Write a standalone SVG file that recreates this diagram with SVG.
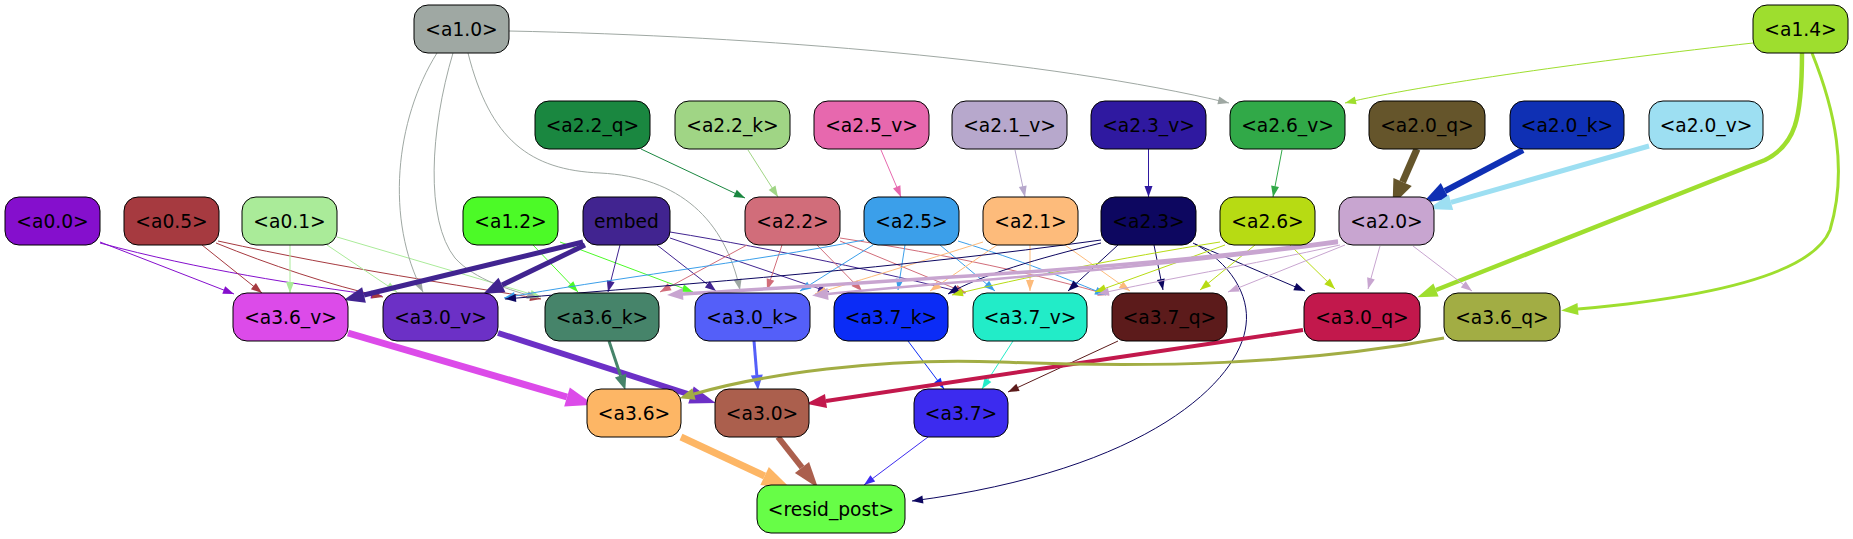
<svg xmlns="http://www.w3.org/2000/svg" width="1853" height="539" viewBox="0 0 1853 539">
<style>
.n rect{stroke:#000;stroke-width:1}
.n text{font-family:"DejaVu Sans","Liberation Sans",sans-serif;font-size:18.67px;text-anchor:middle;fill:#000}
#edges path{fill:none;stroke-width:1}
.gray{stroke:#9fa8a3}.a14{stroke:#9ede2e}.a22q{stroke:#1a8740}.a22k{stroke:#a0d585}.a25v{stroke:#e768ae}.a21v{stroke:#b7a8cc}.a23v{stroke:#2f19a0}.a26v{stroke:#31a948}
.a00{stroke:#850fcd}.a05{stroke:#a63a40}.a01{stroke:#aaeb99}.a12{stroke:#4cfa27}.emb{stroke:#412490}.a22{stroke:#d16d7a}.a25{stroke:#3b9fea}.a21{stroke:#fdbb7b}.a23{stroke:#0d0760}.a26{stroke:#b7db13}.a20{stroke:#c8a5d0}
.a37k{stroke:#0b2cf6}.a37v{stroke:#22ecc8}.a37q{stroke:#5c1b1b}.a37{stroke:#3c2bef}
.a20q{stroke:#65552b}.a20k{stroke:#0f30b4}.a20v{stroke:#9ddff2}.a36v{stroke:#dc4be9}.a30v{stroke:#6c30c6}.a36k{stroke:#46846a}.a30k{stroke:#545ff9}.a30q{stroke:#c2184c}.a36q{stroke:#a2ad44}.a36{stroke:#fdb665}.a30{stroke:#ab5f4d}
</style>
<defs>
<marker id="t-gray" markerUnits="userSpaceOnUse" markerWidth="12" markerHeight="9" refX="11" refY="4" orient="auto" overflow="visible"><path d="M0,0L11,4L0,8z" fill="#9fa8a3"/></marker>
<marker id="t-a14" markerUnits="userSpaceOnUse" markerWidth="12" markerHeight="9" refX="11" refY="4" orient="auto" overflow="visible"><path d="M0,0L11,4L0,8z" fill="#9ede2e"/></marker>
<marker id="t-a22q" markerUnits="userSpaceOnUse" markerWidth="12" markerHeight="9" refX="11" refY="4" orient="auto" overflow="visible"><path d="M0,0L11,4L0,8z" fill="#1a8740"/></marker>
<marker id="t-a22k" markerUnits="userSpaceOnUse" markerWidth="12" markerHeight="9" refX="11" refY="4" orient="auto" overflow="visible"><path d="M0,0L11,4L0,8z" fill="#a0d585"/></marker>
<marker id="t-a25v" markerUnits="userSpaceOnUse" markerWidth="12" markerHeight="9" refX="11" refY="4" orient="auto" overflow="visible"><path d="M0,0L11,4L0,8z" fill="#e768ae"/></marker>
<marker id="t-a21v" markerUnits="userSpaceOnUse" markerWidth="12" markerHeight="9" refX="11" refY="4" orient="auto" overflow="visible"><path d="M0,0L11,4L0,8z" fill="#b7a8cc"/></marker>
<marker id="t-a23v" markerUnits="userSpaceOnUse" markerWidth="12" markerHeight="9" refX="11" refY="4" orient="auto" overflow="visible"><path d="M0,0L11,4L0,8z" fill="#2f19a0"/></marker>
<marker id="t-a26v" markerUnits="userSpaceOnUse" markerWidth="12" markerHeight="9" refX="11" refY="4" orient="auto" overflow="visible"><path d="M0,0L11,4L0,8z" fill="#31a948"/></marker>
<marker id="t-a00" markerUnits="userSpaceOnUse" markerWidth="12" markerHeight="9" refX="11" refY="4" orient="auto" overflow="visible"><path d="M0,0L11,4L0,8z" fill="#850fcd"/></marker>
<marker id="t-a05" markerUnits="userSpaceOnUse" markerWidth="12" markerHeight="9" refX="11" refY="4" orient="auto" overflow="visible"><path d="M0,0L11,4L0,8z" fill="#a63a40"/></marker>
<marker id="t-a01" markerUnits="userSpaceOnUse" markerWidth="12" markerHeight="9" refX="11" refY="4" orient="auto" overflow="visible"><path d="M0,0L11,4L0,8z" fill="#aaeb99"/></marker>
<marker id="t-a12" markerUnits="userSpaceOnUse" markerWidth="12" markerHeight="9" refX="11" refY="4" orient="auto" overflow="visible"><path d="M0,0L11,4L0,8z" fill="#4cfa27"/></marker>
<marker id="t-emb" markerUnits="userSpaceOnUse" markerWidth="12" markerHeight="9" refX="11" refY="4" orient="auto" overflow="visible"><path d="M0,0L11,4L0,8z" fill="#412490"/></marker>
<marker id="t-a22" markerUnits="userSpaceOnUse" markerWidth="12" markerHeight="9" refX="11" refY="4" orient="auto" overflow="visible"><path d="M0,0L11,4L0,8z" fill="#d16d7a"/></marker>
<marker id="t-a25" markerUnits="userSpaceOnUse" markerWidth="12" markerHeight="9" refX="11" refY="4" orient="auto" overflow="visible"><path d="M0,0L11,4L0,8z" fill="#3b9fea"/></marker>
<marker id="t-a21" markerUnits="userSpaceOnUse" markerWidth="12" markerHeight="9" refX="11" refY="4" orient="auto" overflow="visible"><path d="M0,0L11,4L0,8z" fill="#fdbb7b"/></marker>
<marker id="t-a23" markerUnits="userSpaceOnUse" markerWidth="12" markerHeight="9" refX="11" refY="4" orient="auto" overflow="visible"><path d="M0,0L11,4L0,8z" fill="#0d0760"/></marker>
<marker id="t-a26" markerUnits="userSpaceOnUse" markerWidth="12" markerHeight="9" refX="11" refY="4" orient="auto" overflow="visible"><path d="M0,0L11,4L0,8z" fill="#b7db13"/></marker>
<marker id="t-a20" markerUnits="userSpaceOnUse" markerWidth="12" markerHeight="9" refX="11" refY="4" orient="auto" overflow="visible"><path d="M0,0L11,4L0,8z" fill="#c8a5d0"/></marker>
<marker id="t-a37k" markerUnits="userSpaceOnUse" markerWidth="12" markerHeight="9" refX="11" refY="4" orient="auto" overflow="visible"><path d="M0,0L11,4L0,8z" fill="#0b2cf6"/></marker>
<marker id="t-a37v" markerUnits="userSpaceOnUse" markerWidth="12" markerHeight="9" refX="11" refY="4" orient="auto" overflow="visible"><path d="M0,0L11,4L0,8z" fill="#22ecc8"/></marker>
<marker id="t-a37q" markerUnits="userSpaceOnUse" markerWidth="12" markerHeight="9" refX="11" refY="4" orient="auto" overflow="visible"><path d="M0,0L11,4L0,8z" fill="#5c1b1b"/></marker>
<marker id="t-a37" markerUnits="userSpaceOnUse" markerWidth="12" markerHeight="9" refX="11" refY="4" orient="auto" overflow="visible"><path d="M0,0L11,4L0,8z" fill="#3c2bef"/></marker>
<marker id="T-a20q" markerUnits="userSpaceOnUse" markerWidth="26" markerHeight="20" refX="0" refY="10" orient="auto" overflow="visible"><path d="M0,0L25,10L0,20z" fill="#65552b"/></marker>
<marker id="T-a20k" markerUnits="userSpaceOnUse" markerWidth="26" markerHeight="19" refX="0" refY="9" orient="auto" overflow="visible"><path d="M0,0L25,9L0,18z" fill="#0f30b4"/></marker>
<marker id="T-a20v" markerUnits="userSpaceOnUse" markerWidth="26" markerHeight="17" refX="0" refY="8" orient="auto" overflow="visible"><path d="M0,0L24,8L0,16z" fill="#9ddff2"/></marker>
<marker id="T-a14q" markerUnits="userSpaceOnUse" markerWidth="21" markerHeight="15" refX="0" refY="7" orient="auto" overflow="visible"><path d="M0,0L20,7L0,14z" fill="#9ede2e"/></marker>
<marker id="T-a14s" markerUnits="userSpaceOnUse" markerWidth="18" markerHeight="13" refX="0" refY="6" orient="auto" overflow="visible"><path d="M0,0L17,6L0,12z" fill="#9ede2e"/></marker>
<marker id="T-emb" markerUnits="userSpaceOnUse" markerWidth="22" markerHeight="17" refX="0" refY="8" orient="auto" overflow="visible"><path d="M0,0L21,8L0,16z" fill="#412490"/></marker>
<marker id="T-a36v" markerUnits="userSpaceOnUse" markerWidth="29" markerHeight="21" refX="0" refY="10" orient="auto" overflow="visible"><path d="M0,0L28,10L0,20z" fill="#dc4be9"/></marker>
<marker id="T-a30v" markerUnits="userSpaceOnUse" markerWidth="27" markerHeight="19" refX="0" refY="9" orient="auto" overflow="visible"><path d="M0,0L26,9L0,18z" fill="#6c30c6"/></marker>
<marker id="T-a36k" markerUnits="userSpaceOnUse" markerWidth="16" markerHeight="13" refX="0" refY="6" orient="auto" overflow="visible"><path d="M0,0L15,6L0,12z" fill="#46846a"/></marker>
<marker id="T-a30k" markerUnits="userSpaceOnUse" markerWidth="16" markerHeight="13" refX="0" refY="6" orient="auto" overflow="visible"><path d="M0,0L15,6L0,12z" fill="#545ff9"/></marker>
<marker id="T-a30q" markerUnits="userSpaceOnUse" markerWidth="21" markerHeight="15" refX="0" refY="7" orient="auto" overflow="visible"><path d="M0,0L20,7L0,14z" fill="#c2184c"/></marker>
<marker id="T-a36q" markerUnits="userSpaceOnUse" markerWidth="16" markerHeight="13" refX="0" refY="6" orient="auto" overflow="visible"><path d="M0,0L15,6L0,12z" fill="#a2ad44"/></marker>
<marker id="T-a36" markerUnits="userSpaceOnUse" markerWidth="29" markerHeight="21" refX="0" refY="10" orient="auto" overflow="visible"><path d="M0,0L28,10L0,20z" fill="#fdb665"/></marker>
<marker id="T-a30" markerUnits="userSpaceOnUse" markerWidth="27" markerHeight="19" refX="0" refY="9" orient="auto" overflow="visible"><path d="M0,0L26,9L0,18z" fill="#ab5f4d"/></marker>
<marker id="T-a20t" markerUnits="userSpaceOnUse" markerWidth="17" markerHeight="13" refX="0" refY="6" orient="auto" overflow="visible"><path d="M0,0L16,6L0,12z" fill="#c8a5d0"/></marker>
</defs>
<rect width="1853" height="539" fill="#fff"/>
<g id="edges">
<path class="gray" marker-end="url(#t-gray)" d="M509,31 C760,36 1050,60 1229,103"/>
<path class="a14" marker-end="url(#t-a14)" d="M1753,43 C1600,60 1420,85 1345,103"/>
<path class="a14" style="stroke-width:4.5" marker-end="url(#T-a14q)" d="M1802,53 C1802,120 1795,145 1765,160 L1436,290"/>
<path class="a14" style="stroke-width:3" marker-end="url(#T-a14s)" d="M1812,53 C1835,110 1848,170 1830,230 C1810,280 1680,300 1578,309"/>
<path class="a22q" marker-end="url(#t-a22q)" d="M641,149 L745,198"/>
<path class="a22k" marker-end="url(#t-a22k)" d="M748,150 L778,197"/>
<path class="a25v" marker-end="url(#t-a25v)" d="M881,150 L901,197"/>
<path class="a21v" marker-end="url(#t-a21v)" d="M1015,150 L1025,197"/>
<path class="a23v" marker-end="url(#t-a23v)" d="M1148.5,149 L1148.5,197"/>
<path class="a26v" marker-end="url(#t-a26v)" d="M1282,150 L1273,197"/>
<path class="a20q" style="stroke-width:7" marker-end="url(#T-a20q)" d="M1417,149 L1402.6,182"/>
<path class="a20k" style="stroke-width:6" marker-end="url(#T-a20k)" d="M1523,150 L1445,191"/>
<path class="a20v" style="stroke-width:5" marker-end="url(#T-a20v)" d="M1649,146 L1451,202.4"/>
<path class="a00" marker-end="url(#t-a00)" d="M100,242 L234,294"/>
<path class="a00" marker-end="url(#t-a00)" d="M100,243 C200,270 300,285 382,296"/>
<path class="a05" marker-end="url(#t-a05)" d="M202,245 L262,293"/>
<path class="a05" marker-end="url(#t-a05)" d="M216,243 C270,265 330,285 383,297"/>
<path class="a05" marker-end="url(#t-a05)" d="M218,241 C350,270 460,285 541,299"/>
<path class="a01" marker-end="url(#t-a01)" d="M290,245 L290,293"/>
<path class="a01" marker-end="url(#t-a01)" d="M327,245 L397,292"/>
<path class="a01" marker-end="url(#t-a01)" d="M337,237 L541,297"/>
<path class="gray" marker-end="url(#t-gray)" d="M437,53 C395,120 385,220 423,292"/>
<path class="gray" marker-end="url(#t-gray)" d="M453,53 C430,130 425,220 455,258 C475,280 510,290 538,298"/>
<path class="gray" marker-end="url(#t-gray)" d="M468,53 C490,140 530,170 600,173 C680,177 725,220 740,290"/>
<path class="a12" marker-end="url(#t-a12)" d="M533,245 L578,292"/>
<path class="a12" marker-end="url(#t-a12)" d="M560,242 L693,292"/>
<path class="emb" style="stroke-width:5" marker-end="url(#T-emb)" d="M583,242 L364,295"/>
<path class="emb" style="stroke-width:5" marker-end="url(#T-emb)" d="M585,245 L502,285"/>
<path class="emb" marker-end="url(#t-emb)" d="M620,245 L608,292"/>
<path class="emb" marker-end="url(#t-emb)" d="M657,245 L716,291"/>
<path class="emb" marker-end="url(#t-emb)" d="M670,238 L829,292"/>
<path class="emb" marker-end="url(#t-emb)" d="M670,232 C780,250 880,272 965,293"/>
<path class="a22" marker-end="url(#t-a22)" d="M747,245 L660,292"/>
<path class="a22" marker-end="url(#t-a22)" d="M782,245 L767,290"/>
<path class="a22" marker-end="url(#t-a22)" d="M817,245 L862,291"/>
<path class="a22" marker-end="url(#t-a22)" d="M840,241 L966,293"/>
<path class="a22" marker-end="url(#t-a22)" d="M840,238 C950,255 1040,275 1109,295"/>
<path class="a25" marker-end="url(#t-a25)" d="M864,240 C750,262 600,280 504,298"/>
<path class="a25" marker-end="url(#t-a25)" d="M873,245 L800,291"/>
<path class="a25" marker-end="url(#t-a25)" d="M905,245 L898,290"/>
<path class="a25" marker-end="url(#t-a25)" d="M940,245 L995,291"/>
<path class="a25" marker-end="url(#t-a25)" d="M958,241 C1020,260 1070,280 1106,295"/>
<path class="a21" marker-end="url(#t-a21)" d="M983,242 C920,262 860,280 815,294"/>
<path class="a21" marker-end="url(#t-a21)" d="M997,245 L930,291"/>
<path class="a21" marker-end="url(#t-a21)" d="M1030,245 L1030,291"/>
<path class="a21" marker-end="url(#t-a21)" d="M1065,245 L1130,291"/>
<path class="a23" marker-end="url(#t-a23)" d="M1101,240 C900,268 700,283 505,299"/>
<path class="a23" marker-end="url(#t-a23)" d="M1101,243 C1040,258 980,275 948,294"/>
<path class="a23" marker-end="url(#t-a23)" d="M1118,245 L1068,291"/>
<path class="a23" marker-end="url(#t-a23)" d="M1154,245 L1163,290"/>
<path class="a23" marker-end="url(#t-a23)" d="M1195,244 L1305,291"/>
<path class="a23" marker-end="url(#t-a23)" d="M1193,243 C1230,262 1250,295 1246,325 C1240,380 1150,470 912,501"/>
<path class="a26" marker-end="url(#t-a26)" d="M1220,242 C1120,258 1020,278 952,295"/>
<path class="a26" marker-end="url(#t-a26)" d="M1225,245 L1095,292"/>
<path class="a26" marker-end="url(#t-a26)" d="M1255,245 L1200,290"/>
<path class="a26" marker-end="url(#t-a26)" d="M1290,245 L1335,289"/>
<path class="a20" style="stroke-width:3.5" marker-end="url(#T-a20t)" d="M1338,241 C1150,268 900,280 683,294"/>
<path class="a20" style="stroke-width:2.5" marker-end="url(#T-a20t)" d="M1338,243 C1150,268 950,282 828,294"/>
<path class="a20" marker-end="url(#t-a20)" d="M1340,245 C1250,265 1160,280 1098,294"/>
<path class="a20" marker-end="url(#t-a20)" d="M1345,245 L1228,292"/>
<path class="a20" marker-end="url(#t-a20)" d="M1380,246 L1368,289"/>
<path class="a20" marker-end="url(#t-a20)" d="M1413,246 L1472,291"/>
<path class="a36v" style="stroke-width:7" marker-end="url(#T-a36v)" d="M348,333 L567,397"/>
<path class="a30v" style="stroke-width:6" marker-end="url(#T-a30v)" d="M498,333 L691,395"/>
<path class="a36k" style="stroke-width:3" marker-end="url(#T-a36k)" d="M609,341 L620.6,375.7"/>
<path class="a30k" style="stroke-width:3" marker-end="url(#T-a30k)" d="M754,341 L756.8,375"/>
<path class="a37k" marker-end="url(#t-a37k)" d="M908,341 L944,389"/>
<path class="a37v" marker-end="url(#t-a37v)" d="M1013,341 L982,389"/>
<path class="a37q" marker-end="url(#t-a37q)" d="M1118,341 L1008,392"/>
<path class="a30q" style="stroke-width:4" marker-end="url(#T-a30q)" d="M1303,330 C1150,352 950,383 826,401"/>
<path class="a36q" style="stroke-width:3" marker-end="url(#T-a36q)" d="M1444,338 C1300,365 1150,368 1000,362 C880,357 760,375 694,394"/>
<path class="a36" style="stroke-width:7" marker-end="url(#T-a36)" d="M681,437 L764.6,476"/>
<path class="a30" style="stroke-width:6" marker-end="url(#T-a30)" d="M778,437 L802,467.5"/>
<path class="a37" marker-end="url(#t-a37)" d="M928,437 L864,485"/>
</g>
<g id="node-a1_0" class="n"><rect x="414" y="5" width="95" height="48" rx="14" fill="#9fa8a3"/><text x="461.5" y="35.5">&lt;a1.0&gt;</text></g>
<g id="node-a1_4" class="n"><rect x="1753" y="5" width="95" height="48" rx="14" fill="#9ede2e"/><text x="1800.5" y="35.5">&lt;a1.4&gt;</text></g>
<g id="node-a2_2_q" class="n"><rect x="535" y="101" width="115" height="48" rx="14" fill="#1a8740"/><text x="592.5" y="131.5">&lt;a2.2_q&gt;</text></g>
<g id="node-a2_2_k" class="n"><rect x="675" y="101" width="115" height="48" rx="14" fill="#a0d585"/><text x="732.5" y="131.5">&lt;a2.2_k&gt;</text></g>
<g id="node-a2_5_v" class="n"><rect x="814" y="101" width="115" height="48" rx="14" fill="#e768ae"/><text x="871.5" y="131.5">&lt;a2.5_v&gt;</text></g>
<g id="node-a2_1_v" class="n"><rect x="952" y="101" width="115" height="48" rx="14" fill="#b7a8cc"/><text x="1009.5" y="131.5">&lt;a2.1_v&gt;</text></g>
<g id="node-a2_3_v" class="n"><rect x="1091" y="101" width="115" height="48" rx="14" fill="#2f19a0"/><text x="1148.5" y="131.5">&lt;a2.3_v&gt;</text></g>
<g id="node-a2_6_v" class="n"><rect x="1230" y="101" width="115" height="48" rx="14" fill="#31a948"/><text x="1287.5" y="131.5">&lt;a2.6_v&gt;</text></g>
<g id="node-a2_0_q" class="n"><rect x="1369" y="101" width="116" height="48" rx="14" fill="#65552b"/><text x="1427" y="131.5">&lt;a2.0_q&gt;</text></g>
<g id="node-a2_0_k" class="n"><rect x="1510" y="101" width="114" height="48" rx="14" fill="#0f30b4"/><text x="1567" y="131.5">&lt;a2.0_k&gt;</text></g>
<g id="node-a2_0_v" class="n"><rect x="1649" y="101" width="114" height="48" rx="14" fill="#9ddff2"/><text x="1706" y="131.5">&lt;a2.0_v&gt;</text></g>
<g id="node-a0_0" class="n"><rect x="5" y="197" width="95" height="48" rx="14" fill="#850fcd"/><text x="52.5" y="227.5">&lt;a0.0&gt;</text></g>
<g id="node-a0_5" class="n"><rect x="124" y="197" width="95" height="48" rx="14" fill="#a63a40"/><text x="171.5" y="227.5">&lt;a0.5&gt;</text></g>
<g id="node-a0_1" class="n"><rect x="242" y="197" width="95" height="48" rx="14" fill="#aaeb99"/><text x="289.5" y="227.5">&lt;a0.1&gt;</text></g>
<g id="node-a1_2" class="n"><rect x="463" y="197" width="95" height="48" rx="14" fill="#4cfa27"/><text x="510.5" y="227.5">&lt;a1.2&gt;</text></g>
<g id="node-embed" class="n"><rect x="583" y="197" width="87" height="48" rx="14" fill="#412490"/><text x="626.5" y="227.5">embed</text></g>
<g id="node-a2_2" class="n"><rect x="745" y="197" width="95" height="48" rx="14" fill="#d16d7a"/><text x="792.5" y="227.5">&lt;a2.2&gt;</text></g>
<g id="node-a2_5" class="n"><rect x="864" y="197" width="95" height="48" rx="14" fill="#3b9fea"/><text x="911.5" y="227.5">&lt;a2.5&gt;</text></g>
<g id="node-a2_1" class="n"><rect x="983" y="197" width="95" height="48" rx="14" fill="#fdbb7b"/><text x="1030.5" y="227.5">&lt;a2.1&gt;</text></g>
<g id="node-a2_3" class="n"><rect x="1101" y="197" width="95" height="48" rx="14" fill="#0d0760"/><text x="1148.5" y="227.5">&lt;a2.3&gt;</text></g>
<g id="node-a2_6" class="n"><rect x="1220" y="197" width="95" height="48" rx="14" fill="#b7db13"/><text x="1267.5" y="227.5">&lt;a2.6&gt;</text></g>
<g id="node-a2_0" class="n"><rect x="1339" y="197" width="95" height="48" rx="14" fill="#c8a5d0"/><text x="1386.5" y="227.5">&lt;a2.0&gt;</text></g>
<g id="node-a3_6_v" class="n"><rect x="233" y="293" width="115" height="48" rx="14" fill="#dc4be9"/><text x="290.5" y="323.5">&lt;a3.6_v&gt;</text></g>
<g id="node-a3_0_v" class="n"><rect x="383" y="293" width="115" height="48" rx="14" fill="#6c30c6"/><text x="440.5" y="323.5">&lt;a3.0_v&gt;</text></g>
<g id="node-a3_6_k" class="n"><rect x="545" y="293" width="114" height="48" rx="14" fill="#46846a"/><text x="602" y="323.5">&lt;a3.6_k&gt;</text></g>
<g id="node-a3_0_k" class="n"><rect x="695" y="293" width="115" height="48" rx="14" fill="#545ff9"/><text x="752.5" y="323.5">&lt;a3.0_k&gt;</text></g>
<g id="node-a3_7_k" class="n"><rect x="834" y="293" width="114" height="48" rx="14" fill="#0b2cf6"/><text x="891" y="323.5">&lt;a3.7_k&gt;</text></g>
<g id="node-a3_7_v" class="n"><rect x="973" y="293" width="114" height="48" rx="14" fill="#22ecc8"/><text x="1030" y="323.5">&lt;a3.7_v&gt;</text></g>
<g id="node-a3_7_q" class="n"><rect x="1112" y="293" width="115" height="48" rx="14" fill="#5c1b1b"/><text x="1169.5" y="323.5">&lt;a3.7_q&gt;</text></g>
<g id="node-a3_0_q" class="n"><rect x="1304" y="293" width="116" height="48" rx="14" fill="#c2184c"/><text x="1362" y="323.5">&lt;a3.0_q&gt;</text></g>
<g id="node-a3_6_q" class="n"><rect x="1444" y="293" width="116" height="48" rx="14" fill="#a2ad44"/><text x="1502" y="323.5">&lt;a3.6_q&gt;</text></g>
<g id="node-a3_6" class="n"><rect x="587" y="389" width="94" height="48" rx="14" fill="#fdb665"/><text x="634" y="419.5">&lt;a3.6&gt;</text></g>
<g id="node-a3_0" class="n"><rect x="715" y="389" width="94" height="48" rx="14" fill="#ab5f4d"/><text x="762" y="419.5">&lt;a3.0&gt;</text></g>
<g id="node-a3_7" class="n"><rect x="914" y="389" width="94" height="48" rx="14" fill="#3c2bef"/><text x="961" y="419.5">&lt;a3.7&gt;</text></g>
<g id="node-resid_post" class="n"><rect x="757" y="485" width="148" height="48" rx="14" fill="#67fd47"/><text x="831" y="515.5">&lt;resid_post&gt;</text></g>
</svg>
